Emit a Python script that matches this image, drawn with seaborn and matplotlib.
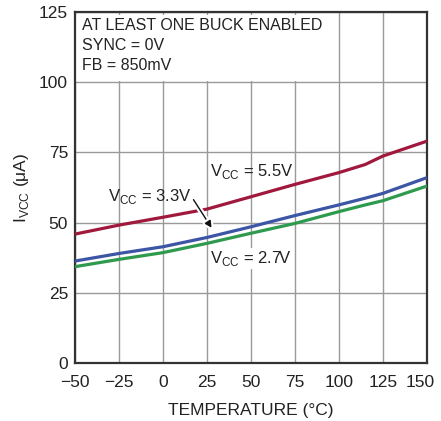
import numpy as np
import pandas as pd
import matplotlib
matplotlib.use("Agg")
import matplotlib.pyplot as plt
import matplotlib.patheffects as pe
import matplotlib.transforms as mtrans
from matplotlib.patches import Rectangle
import seaborn as sns

# datos
temp = [-50, -25, 0, 25, 50, 75, 100, 115, 125, 150]
icc_55 = [45.9, 49.1, 51.9, 54.8, 59.2, 63.6, 67.8, 70.7, 73.7, 79.0]
icc_33 = [36.3, 39.0, 41.4, 44.7, 48.5, 52.5, 56.3, 58.7, 60.4, 66.0]
icc_27 = [34.3, 36.9, 39.3, 42.6, 46.2, 49.7, 53.9, 56.3, 57.8, 63.0]

x_ticks = [-50, -25, 0, 25, 50, 75, 100, 125, 150]
x_labels = ['\u221250', '\u221225', '0', '25', '50', '75', '100', '125', '150']
y_ticks = [0, 25, 50, 75, 100, 125]

colors = {'5.5V': '#A0183C', '3.3V': '#3C55A5', '2.7V': '#2E9A4E'}

df = pd.DataFrame({
    'temp': temp * 3,
    'icc': icc_55 + icc_33 + icc_27,
    'vcc': ['5.5V'] * len(temp) + ['3.3V'] * len(temp) + ['2.7V'] * len(temp),
})

sns.set_theme(style="white")
plt.rcParams['font.family'] = ['Liberation Sans', 'DejaVu Sans']
txt_color = '#222222'

fig = plt.figure(figsize=(4.41, 4.21), dpi=100)
ax = fig.add_axes([0.170, 0.1378, 0.798, 0.8337])

sns.lineplot(data=df, x='temp', y='icc', hue='vcc', palette=colors,
             linewidth=2.3, legend=False, ax=ax, zorder=3)

ax.set_xlim(-50, 150)
ax.set_ylim(0, 125)
ax.set_xticks(x_ticks)
ax.set_xticklabels(x_labels)
ax.set_yticks(y_ticks)
ax.grid(True, color='#999999', linewidth=1.0)
ax.set_axisbelow(True)
for s in ax.spines.values():
    s.set_color('#333333')
    s.set_linewidth(1.6)
ax.tick_params(axis='both', labelsize=12.5, colors=txt_color, length=0)
ax.tick_params(axis='x', pad=9)
ax.tick_params(axis='y', pad=5)
# el ultimo valor del eje x un poco hacia dentro
last = ax.get_xticklabels()[-1]
last.set_transform(last.get_transform() + mtrans.ScaledTranslation(-7 / 100, 0, fig.dpi_scale_trans))

ax.set_xlabel('TEMPERATURE (\u00b0C)', fontsize=12.5, color=txt_color, labelpad=9)
ax.set_ylabel('I$_{\\mathregular{VCC}}$ (\u03bcA)', fontsize=12.5, color=txt_color, labelpad=6)

# recuadro blanco detras del texto de condiciones
ax.add_patch(Rectangle((-50, 100.6), 147.5, 23.2, facecolor='white',
                       edgecolor='none', zorder=1.5))
ax.text(-46, 123, 'AT LEAST ONE BUCK ENABLED\nSYNC = 0V\nFB = 850mV',
        fontsize=11.5, color=txt_color, va='top', ha='left', linespacing=1.45,
        zorder=4)

ax.text(26.5, 68.3, 'V$_{\\mathregular{CC}}$ = 5.5V', fontsize=12, color=txt_color,
        ha='left', va='center', zorder=4)
ax.text(-31.5, 59.3, 'V$_{\\mathregular{CC}}$ = 3.3V', fontsize=12, color=txt_color,
        ha='left', va='center', zorder=4)
ax.text(26.5, 37.2, 'V$_{\\mathregular{CC}}$ = 2.7V', fontsize=12, color=txt_color,
        ha='left', va='center', zorder=4,
        bbox=dict(facecolor='white', edgecolor='none', pad=0.5))

ax.annotate('', xy=(28.5, 47.3), xytext=(16.5, 59),
            arrowprops=dict(arrowstyle='-|>', color='#111111', lw=1.0,
                            mutation_scale=10,
                            path_effects=[pe.withStroke(linewidth=4, foreground='white')]),
            zorder=5)

fig.savefig('out.png', dpi=100)
